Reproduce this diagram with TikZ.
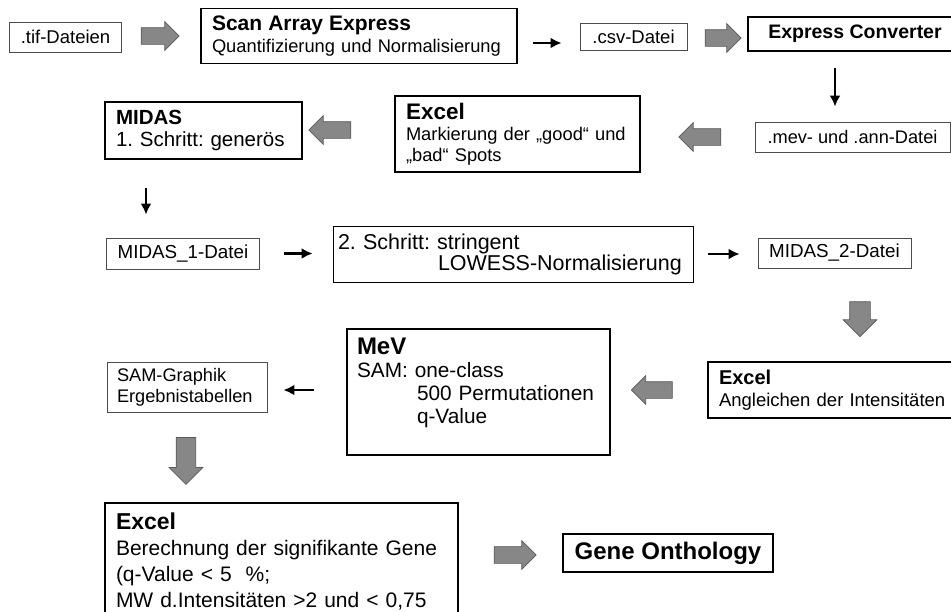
\documentclass[tikz,border=0pt]{standalone}
\usepackage{fontspec}
\setmainfont{Liberation Sans}
\usetikzlibrary{shapes.arrows, arrows.meta, positioning}
\frenchspacing

\tikzset{
  thinbox/.style={draw=black!70, line width=0.9pt, inner xsep=11pt, inner ysep=0pt},
  thickbox/.style={draw=black, line width=1.8pt, inner xsep=11pt, inner ysep=0pt},
  flow/.style={-{Latex[length=11pt,width=11pt]}, line width=2.4pt},
  blockarrow/.style={single arrow, draw=black!65, fill=black!47, line width=0.7pt,
    inner sep=8pt, single arrow head extend=6pt}
}
\newcommand{\hd}[2]{{\fontsize{#1}{#1}\selectfont\bfseries #2}}

\begin{document}
\begin{tikzpicture}[x=1pt,y=-1pt]
  \clip (0,0) rectangle (951,611);
  \fill[white] (0,0) rectangle (951,611);

  % first row
  \node[thinbox, minimum width=111, minimum height=30, font=\fontsize{18.5}{22}\selectfont] (tif) at (65.5,37) {.tif-Dateien};
  \node[thickbox, minimum width=316, minimum height=55, text width=294pt, align=left, font=\fontsize{18.3}{22}\selectfont] (scan) at (359,36)
    {\hd{21}{Scan Array Express}\\Quantifizierung und Normalisierung};
  \node[thinbox, minimum width=107, minimum height=27, font=\fontsize{18.5}{22}\selectfont] (csv) at (633.5,36.5) {.csv-Datei};
  \node[thickbox, minimum width=214, minimum height=34] (conv) at (855,34) {\hd{19.5}{Express Converter}};

  % second row
  \node[thinbox, minimum width=195, minimum height=30, font=\fontsize{18.2}{22}\selectfont] (mev) at (852.5,137) {.mev- und .ann-Datei};
  \node[thickbox, minimum width=245, minimum height=76, text width=223pt, align=left, font=\fontsize{18.3}{21}\selectfont] (excelA) at (517.5,134)
    {\hd{22.5}{Excel}\\Markierung der „good“ und\\„bad“ Spots};
  \node[thickbox, minimum width=197, minimum height=57, text width=175pt, align=left, font=\fontsize{20.5}{22}\selectfont] (midas) at (203.5,130.5)
    {\hd{20.5}{MIDAS}\\1. Schritt: generös};

  % third row
  \node[thinbox, minimum width=152, minimum height=31, font=\fontsize{18.8}{22}\selectfont] (midasA) at (183,253.5) {MIDAS\_1-Datei};
  \node[thinbox, draw=black, minimum width=360, minimum height=56, inner xsep=5pt, text width=350pt, align=left, font=\fontsize{21.5}{21}\selectfont] (stepB) at (513,254)
    {2. Schritt: stringent\\\hspace*{100pt}LOWESS-Normalisierung};
  \node[thinbox, minimum width=153, minimum height=30, font=\fontsize{18.8}{22}\selectfont] (midasB) at (834.5,253) {MIDAS\_2-Datei};

  % fourth row
  \node[thickbox, line width=1.5pt, minimum width=257, minimum height=56, text width=235pt, align=left, font=\fontsize{18.5}{22}\selectfont] (excelB) at (836.5,390)
    {\hd{20}{Excel}\\Angleichen der Intensitäten};
  \node[thickbox, line width=1.4pt, minimum width=263, minimum height=126, inner xsep=10pt, text width=243pt, align=left, font=\fontsize{20.8}{23}\selectfont] (mevbox) at (478.5,392)
    {\hd{24}{MeV}\\SAM: one-class\\\hspace*{60pt}500 Permutationen\\\hspace*{60pt}q-Value\\\mbox{}};
  \node[thinbox, minimum width=160, minimum height=50, inner xsep=10pt, text width=140pt, align=left, font=\fontsize{18.2}{21}\selectfont] (sam) at (187,387)
    {SAM-Graphik\\Ergebnistabellen};

  % last row
  \node[thickbox, line width=1.4pt, minimum width=353, minimum height=117, text width=331pt, align=left, font=\fontsize{21}{26}\selectfont] (excelC) at (281.5,561.5)
    {\hd{23}{Excel}\\Berechnung der signifikante Gene\\(q-Value < 5\ \ \%;\\MW d.Intensitäten >2 und < 0,75};
  \node[thickbox, minimum width=210, minimum height=38] (gene) at (668,553) {\hd{24}{Gene Onthology}};

  % black arrows
  \draw[flow, shorten <=15pt, shorten >=18pt] ([yshift=-7pt]scan.east) -- ([yshift=-7pt]scan.east -| csv.west);
  \draw[flow, shorten <=16pt, shorten >=15pt] ([xshift=-20pt]conv.south) -- ([xshift=-20pt]conv.south |- mev.north);
  \draw[flow, shorten <=28pt, shorten >=23pt] ([xshift=-57.5pt]midas.south) -- ([xshift=-57.5pt]midas.south |- midasA.north);
  \draw[flow, shorten <=24pt, shorten >=20pt] (midasA.east) -- (midasA.east -| stepB.west);
  \draw[flow, shorten <=15pt, shorten >=18pt] (stepB.east) -- (stepB.east -| midasB.west);
  \draw[flow, shorten <=32pt, shorten >=16pt] ([yshift=2pt]mevbox.west) -- ([yshift=2pt]mevbox.west -| sam.east);

  % grey block arrows
  \node[blockarrow, minimum height=38] (arrA) at (156,36) {};
  \node[blockarrow, minimum height=36] (arrB) at (719,38) {};
  \node[blockarrow, minimum height=42, rotate=180] (arrC) at (704,137) {};
  \node[blockarrow, minimum height=42, rotate=180] (arrD) at (334,130) {};
  \node[blockarrow, minimum height=35, inner sep=10pt, single arrow head extend=6.5pt, rotate=270] (arrE) at (860,314) {};
  \node[blockarrow, minimum height=41, rotate=180] (arrF) at (656,390) {};
  \node[blockarrow, minimum height=47, inner sep=9.5pt, single arrow head extend=7pt, rotate=270] (arrG) at (186,456) {};
  \node[blockarrow, minimum height=42] (arrH) at (511,555) {};
\end{tikzpicture}
\end{document}
